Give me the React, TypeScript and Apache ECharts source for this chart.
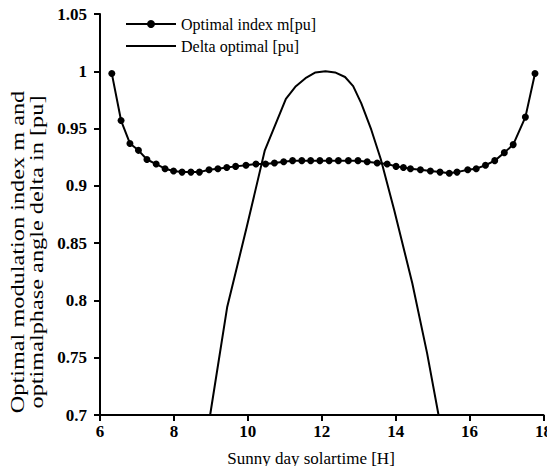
import React, { useEffect, useRef } from "react";
import * as echarts from "echarts";

const mX = [6.32, 6.57, 6.81, 7.04, 7.27, 7.52, 7.76, 7.99, 8.22, 8.46, 8.69, 8.95, 9.19, 9.43, 9.67, 9.95, 10.22, 10.48, 10.72, 10.97, 11.21, 11.46, 11.7, 11.95, 12.2, 12.45, 12.72, 12.98, 13.23, 13.5, 13.77, 14.01, 14.21, 14.4, 14.67, 14.94, 15.2, 15.45, 15.66, 15.95, 16.18, 16.43, 16.68, 16.94, 17.18, 17.51, 17.77];
const mY = [0.998, 0.957, 0.937, 0.931, 0.923, 0.919, 0.915, 0.913, 0.912, 0.912, 0.912, 0.914, 0.915, 0.916, 0.917, 0.918, 0.919, 0.919, 0.92, 0.921, 0.922, 0.922, 0.922, 0.922, 0.922, 0.922, 0.922, 0.922, 0.921, 0.92, 0.919, 0.917, 0.916, 0.915, 0.914, 0.913, 0.912, 0.911, 0.912, 0.914, 0.915, 0.918, 0.922, 0.929, 0.936, 0.96, 0.998];

const dX = [8.98, 9.44, 9.97, 10.46, 11.03, 11.3, 11.56, 11.83, 12.1, 12.36, 12.63, 12.85, 13.07, 13.34, 13.6, 13.96, 14.45, 14.85, 15.16];
const dY = [0.7, 0.794, 0.864, 0.931, 0.976, 0.987, 0.994, 0.999, 1.0, 0.999, 0.995, 0.987, 0.972, 0.949, 0.923, 0.879, 0.815, 0.754, 0.7];

const xTicks = [6, 8, 10, 12, 14, 16, 18];
const yTicks = [0.7, 0.75, 0.8, 0.85, 0.9, 0.95, 1, 1.05];

const seriesNames = ["Optimal index m[pu]", "Delta optimal [pu]"];
const yName1 = "Optimal modulation index m and";
const yName2 = "optimalphase angle delta in [pu]";
const xName = "Sunny day solartime [H]";

const FONT = "'Liberation Serif', 'Times New Roman', serif";

export default function App() {
  const ref = useRef<HTMLDivElement>(null);
  useEffect(() => {
    if (!ref.current) return;
    const chart = echarts.init(ref.current, undefined, { renderer: "svg" });
    const axisCommon = {
      axisLine: { show: true, lineStyle: { color: "#000", width: 2 } },
      axisTick: { show: true, inside: false, length: 6, lineStyle: { color: "#000", width: 2 } },
      splitLine: { show: false },
    };
    chart.setOption({
      animation: false,
      backgroundColor: "#fff",
      grid: { left: 100, right: 3, top: 14, bottom: 59, containLabel: false },
      legend: {
        orient: "vertical",
        left: 120,
        top: 11,
        itemWidth: 50,
        itemHeight: 10,
        itemGap: 6,
        textStyle: { fontFamily: FONT, fontSize: 16, color: "#000" },
        data: [
          { name: seriesNames[0] },
          { name: seriesNames[1], itemStyle: { opacity: 0 } },
        ],
      },
      xAxis: {
        type: "value",
        min: 6,
        max: 18,
        interval: 2,
        ...axisCommon,
        axisLabel: {
          fontFamily: FONT,
          fontSize: 17,
          fontWeight: "bold",
          color: "#000",
          margin: 8,
          formatter: (v: number) => (xTicks.includes(v) ? String(v) : ""),
        },
      },
      yAxis: {
        type: "value",
        min: 0.7,
        max: 1.05,
        interval: 0.05,
        ...axisCommon,
        axisLabel: {
          fontFamily: FONT,
          fontSize: 17,
          fontWeight: "bold",
          color: "#000",
          margin: 13,
          formatter: (v: number) => {
            const t = yTicks.find((a) => Math.abs(a - v) < 1e-6);
            return t === undefined ? "" : String(t);
          },
        },
      },
      graphic: [
        {
          type: "text",
          x: 18,
          y: 252,
          rotation: Math.PI / 2,
          scaleX: 1.35,
          style: {
            text: yName1,
            fontFamily: FONT,
            fontSize: 18,
            fill: "#000",
            align: "center",
            verticalAlign: "middle",
          },
        },
        {
          type: "text",
          x: 37,
          y: 252,
          rotation: Math.PI / 2,
          scaleX: 1.35,
          style: {
            text: yName2,
            fontFamily: FONT,
            fontSize: 18,
            fill: "#000",
            align: "center",
            verticalAlign: "middle",
          },
        },
        {
          type: "text",
          x: 311,
          y: 458,
          style: {
            text: xName,
            fontFamily: FONT,
            fontSize: 17,
            fill: "#000",
            align: "center",
            verticalAlign: "middle",
          },
        },
      ],
      series: [
        {
          name: seriesNames[0],
          type: "line",
          data: mX.map((x, i) => [x, mY[i]]),
          symbol: "circle",
          symbolSize: 7,
          showSymbol: true,
          lineStyle: { color: "#000", width: 2 },
          itemStyle: { color: "#000" },
          smooth: false,
          z: 3,
        },
        {
          name: seriesNames[1],
          type: "line",
          data: dX.map((x, i) => [x, dY[i]]),
          symbol: "none",
          lineStyle: { color: "#000", width: 2 },
          itemStyle: { color: "#000" },
          smooth: false,
          z: 2,
        },
      ],
    });
    return () => chart.dispose();
  }, []);
  return <div ref={ref} style={{ width: 555, height: 474, margin: -8 }} />;
}
